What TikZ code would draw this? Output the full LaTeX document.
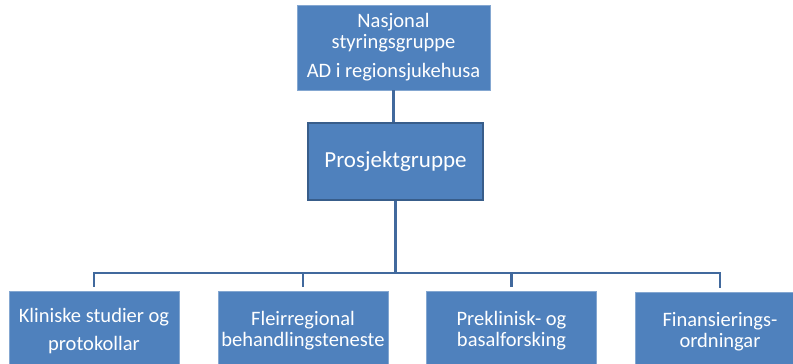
\documentclass[tikz,border=0pt]{standalone}
\usepackage{fontspec}
\setmainfont{Carlito}
\usetikzlibrary{positioning}
\definecolor{boxblue}{HTML}{4F81BD}
\definecolor{lineblue}{HTML}{41699D}
\definecolor{edgeblue}{HTML}{385D8A}
\tikzset{org box/.style={draw=boxblue!70!white, line width=0.6pt, fill=boxblue, text=white,
    align=center, inner sep=0pt, font=\fontsize{20.5}{21}\selectfont}}
\tikzset{unit box/.style={org box, minimum width=170pt, minimum height=80pt}}
\tikzset{org line/.style={draw=lineblue, line width=2.5pt}}

\begin{document}
\begin{tikzpicture}[x=1pt, y=-1pt]
    \clip (0,0) rectangle (793,364);
    \useasboundingbox (0,0) rectangle (793,364);

    \node[org box, minimum width=193pt, minimum height=85pt] (styring) at (393.5,47.5)
        {Nasjonal\\styringsgruppe\\[8pt]AD i regionsjukehusa};
    \node[org box, draw=edgeblue, line width=2.5pt, minimum width=175pt, minimum height=77pt,
        font=\fontsize{23}{26}\selectfont] (prosjekt) at (395.5,161.5) {Prosjektgruppe};

    \node[unit box] (klinisk) at (94,331) {Kliniske studier og\\[7pt]protokollar};
    \node[unit box] (fleir) at (303,331) {Fleirregional\\behandlingsteneste};
    \node[unit box] (preklin) at (511.5,331) {Preklinisk- og\\basalforsking};
    \node[unit box] (finans) at (720,332) {Finansierings-\\ordningar};

    \coordinate (bar) at (395,273);
    \draw[org line] (styring.south) -- (styring.south |- prosjekt.north);
    \foreach \unit in {klinisk, fleir, preklin, finans}
        \draw[org line] (prosjekt.south) -- (prosjekt.south |- bar) -| ([yshift=4pt]\unit.north);

    % \draw[help lines] (0,0) grid (793,364);
\end{tikzpicture}
\end{document}
